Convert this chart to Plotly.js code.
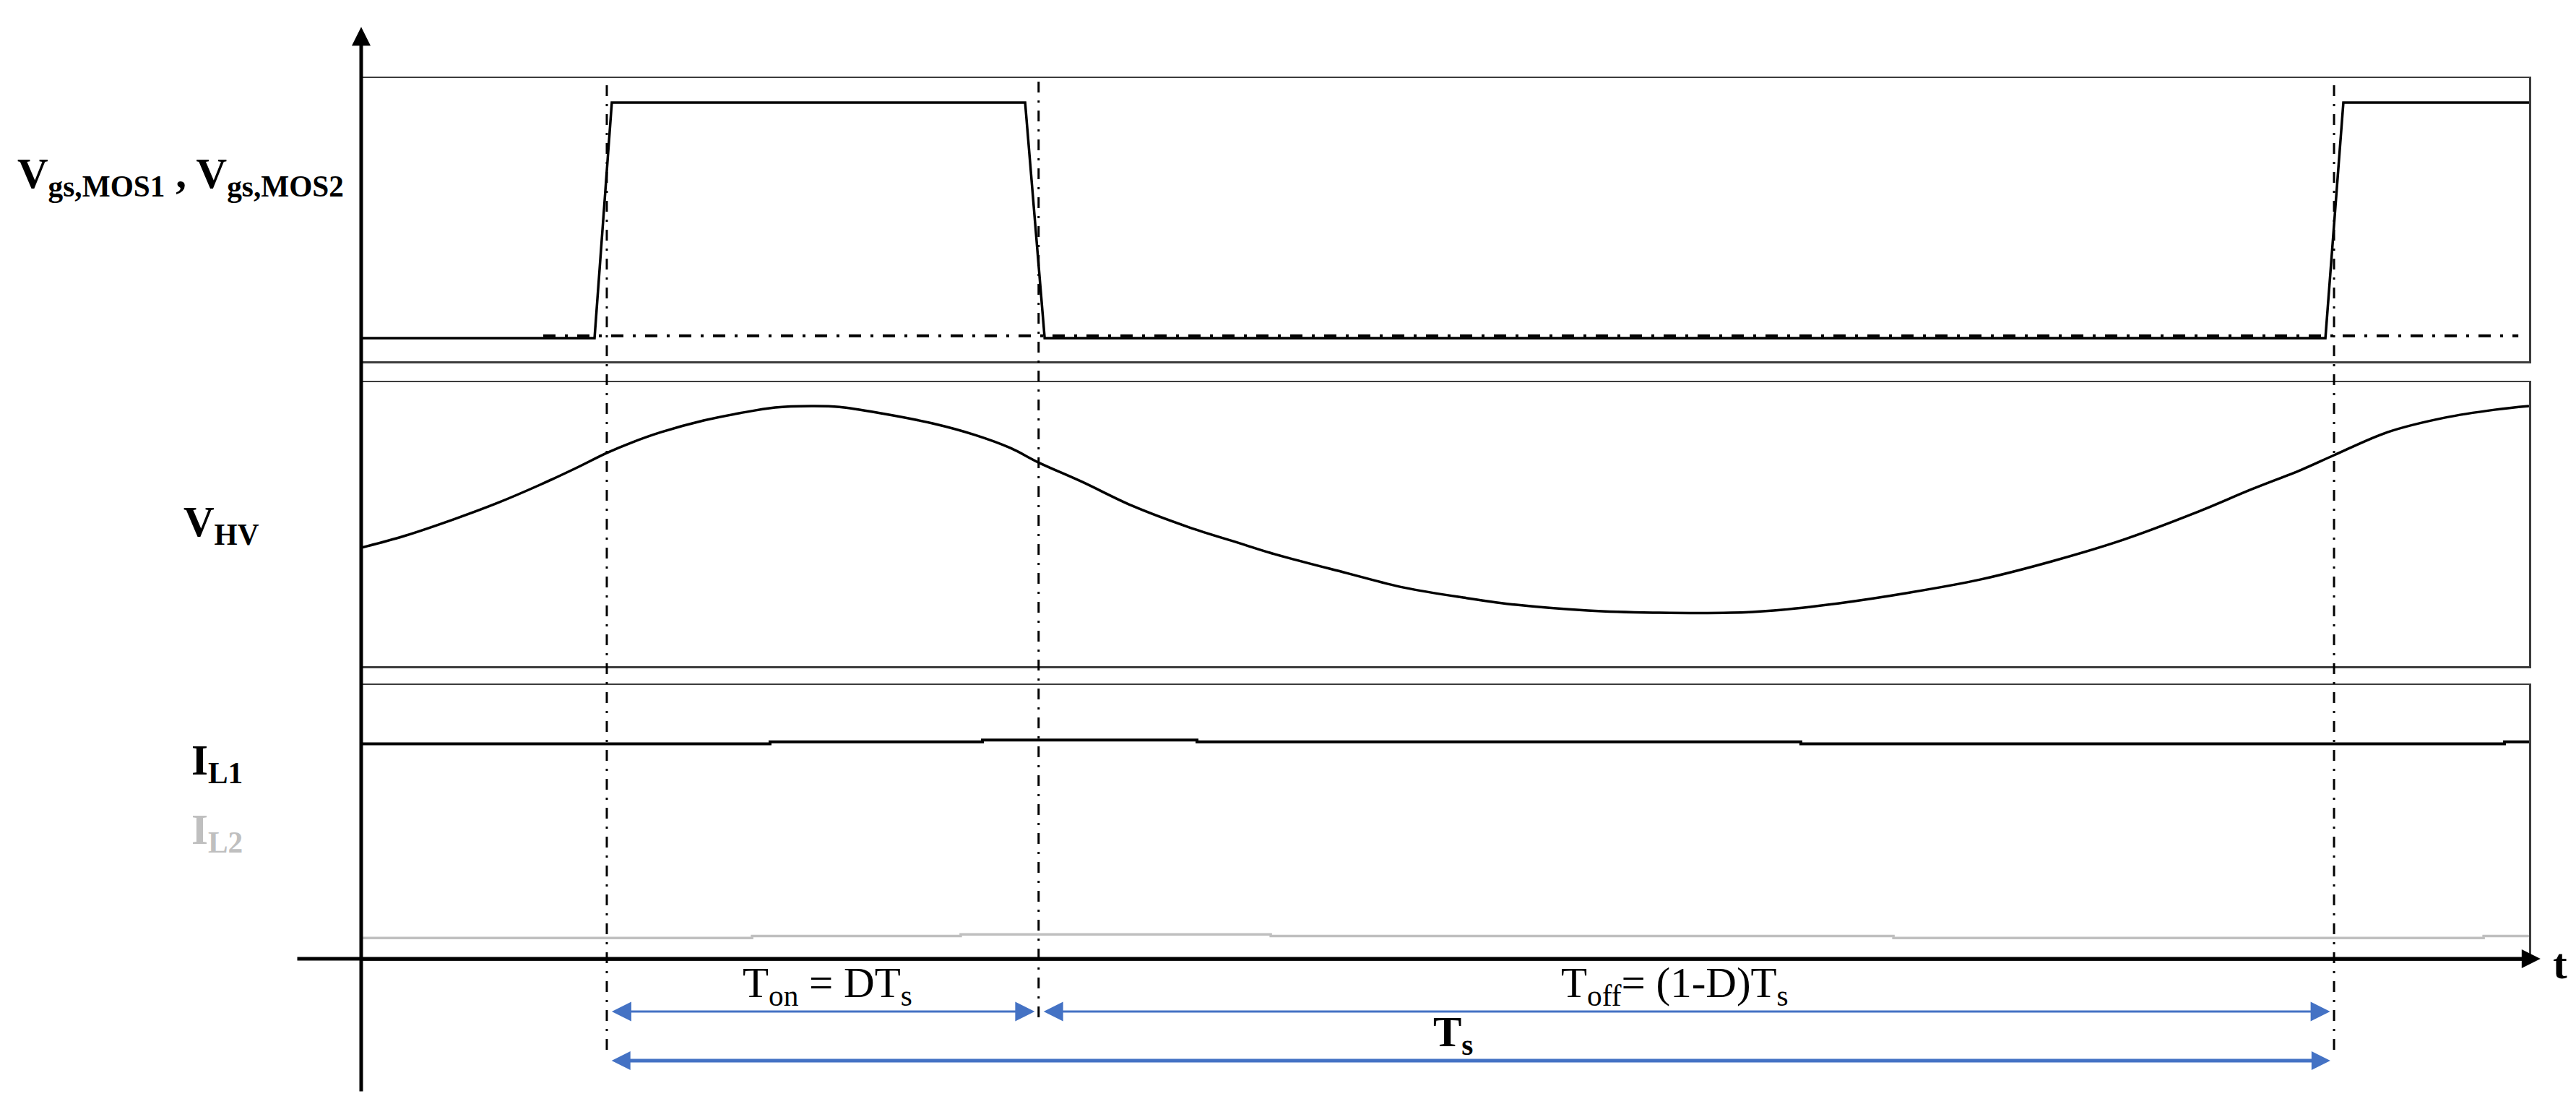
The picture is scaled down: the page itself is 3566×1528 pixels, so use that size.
<!DOCTYPE html>
<html>
<head>
<meta charset="utf-8">
<script src="https://cdn.plot.ly/plotly-3.0.1.min.js"></script>
<style>html,body{margin:0;padding:0;background:#fff;}#chart{width:3566px;height:1528px;}</style>
</head>
<body>
<div id="chart"></div>
<script>
// ---- data (time in units of the switching period Ts) ----
const tSwitch = [0, 0.25, 1.0];               // turn-on, turn-off, next turn-on

const tVgs = [-0.1422, -0.0071, 0.0029, 0.2422, 0.2535, 0.9950, 1.0054, 1.1129];
const vVgs = [0, 0, 1, 1, 0, 0, 1, 1];

const tVgs2 = [-0.0368, 1.1067];
const vVgs2 = [0.01, 0.01];

const tHV = [-0.1422, -0.1175, -0.0887, -0.0636, -0.0389, -0.0184, 0.0000, 0.0146, 0.0314, 0.0560,
             0.0770, 0.0974, 0.1184, 0.1347, 0.1593, 0.1886, 0.2133, 0.2338, 0.2497, 0.2752,
             0.3041, 0.3371, 0.3664, 0.3869, 0.4283, 0.4613, 0.4977, 0.5266, 0.5680, 0.6094,
             0.6504, 0.6755, 0.7127, 0.7541, 0.7951, 0.8365, 0.8779, 0.9193, 0.9523, 0.9812,
             1.0000, 1.0310, 1.0640, 1.0929, 1.1129];
const vHV = [41.7, 45.8, 51.7, 57.4, 63.8, 69.6, 75.1, 78.8, 82.4, 86.5,
             89.1, 91.1, 91.6, 91.3, 89.0, 85.5, 81.4, 76.8, 71.8, 64.9,
             56.5, 48.9, 43.3, 39.4, 32.8, 27.7, 24.0, 21.6, 19.6, 18.8,
             18.8, 19.6, 22.1, 25.9, 30.5, 36.9, 44.5, 53.9, 62.3, 69.2,
             74.3, 82.4, 87.5, 90.3, 91.6];

const tIL1 = [-0.1422, 0.0945, 0.2175, 0.3417, 0.6913, 1.0987, 1.1129];
const vIL1 = [78.5, 79.2, 79.9, 79.2, 78.5, 79.2, 79.2];

const tIL2 = [-0.1422, 0.0841, 0.2049, 0.3844, 0.7449, 1.0866, 1.1129];
const vIL2 = [7.6, 8.3, 8.9, 8.3, 7.6, 8.3, 8.3];

const labelVgs = '<b>V<sub>gs,MOS1</sub> , V<sub>gs,MOS2</sub></b>';
const labelHV = '<b>V<sub>HV</sub></b>';
const labelIL1 = '<b>I<sub>L1</sub></b>';
const labelIL2 = '<b>I<sub>L2</sub></b>';
const labelTon = 'T<sub>on</sub> = DT<sub>s</sub>';
const labelToff = 'T<sub>off</sub>= (1-D)T<sub>s</sub>';
const labelTs = '<b>T<sub>s</sub></b>';
const labelT = '<b>t</b>';

// ---- layout helpers ----
const W = 3566, H = 1528;
const px = p => p / W;
const py = p => 1 - p / H;
const FONT = '"Liberation Serif", "Times New Roman", serif';
const BLUE = '#4472C4';

const axBase = {showline: true, mirror: true, linecolor: '#3c3c3c', linewidth: 2.5,
  showgrid: false, zeroline: false, showticklabels: false, ticks: '', fixedrange: true};
const xr = [-0.1422, 1.1129];
const xd = [px(500), px(3501)];

const traces = [
  {x: tVgs2, y: vVgs2, xaxis: 'x', yaxis: 'y', mode: 'lines',
   line: {color: '#000', width: 4, dash: '17px,13px,4px,13px'}},
  {x: tVgs, y: vVgs, xaxis: 'x', yaxis: 'y', mode: 'lines', line: {color: '#000', width: 3.5}},
  {x: tHV, y: vHV, xaxis: 'x2', yaxis: 'y2', mode: 'lines', line: {color: '#000', width: 3.5, shape: 'spline', smoothing: 1.0}},
  {x: tIL2, y: vIL2, xaxis: 'x3', yaxis: 'y3', mode: 'lines', line: {color: '#bfbfbf', width: 3.5, shape: 'hv'}},
  {x: tIL1, y: vIL1, xaxis: 'x3', yaxis: 'y3', mode: 'lines', line: {color: '#000', width: 4, shape: 'hv'}}
];

const bottoms = [1453, 1408, 1453];
const shapes = tSwitch.map((t, i) => ({
  type: 'line', xref: 'x', yref: 'paper', x0: t, x1: t, y0: py(bottoms[i]), y1: py(108),
  line: {color: '#000', width: 3, dash: '15px,11px,3px,11px'}
}));

function txt(text, x, y, xanchor, opts) {
  return Object.assign({xref: 'paper', yref: 'paper', x: x, y: y, xanchor: xanchor, yanchor: 'middle',
    text: text, showarrow: false, borderpad: 0,
    font: {family: FONT, size: 59, color: '#000'}}, opts || {});
}
function span(t0, t1, yp, w, s) {
  return {xref: 'x', yref: 'paper', x: t1, y: py(yp), axref: 'x', ax: t0, ayref: 'pixel', ay: 0,
    text: '', showarrow: true, arrowside: 'end+start', arrowhead: 2, startarrowhead: 2,
    arrowwidth: w, arrowsize: s, startarrowsize: s, standoff: w * s, startstandoff: w * s,
    arrowcolor: BLUE};
}

const annotations = [
  // axes arrows
  {xref: 'paper', yref: 'paper', x: px(500), y: py(32), axref: 'pixel', ayref: 'pixel', ax: 0, ay: 1480,
   text: '', showarrow: true, arrowhead: 2, arrowwidth: 5, arrowsize: 1.04, standoff: 5.2, arrowcolor: '#000'},
  {xref: 'paper', yref: 'paper', x: px(3522), y: py(1327), axref: 'pixel', ayref: 'pixel', ax: -3112, ay: 0,
   text: '', showarrow: true, arrowhead: 2, arrowwidth: 5, arrowsize: 1.04, standoff: 5.2, arrowcolor: '#000'},
  // period spans
  span(tSwitch[0], tSwitch[1], 1400, 3, 1.8),
  span(tSwitch[1], tSwitch[2], 1400, 3, 1.8),
  span(tSwitch[0], tSwitch[2], 1468, 5, 1.04),
  // labels
  txt(labelVgs, px(23), py(244), 'left'),
  txt(labelHV, px(253), py(726), 'left'),
  txt(labelIL1, px(264), py(1056), 'left'),
  txt(labelIL2, px(264), py(1152), 'left', {font: {family: FONT, size: 59, color: '#bfbfbf'}}),
  txt(labelTon, px(1027), py(1364), 'left'),
  txt(labelToff, px(2160), py(1364), 'left'),
  txt(labelTs, px(2011), py(1432), 'center'),
  txt(labelT, px(3533), py(1334), 'left')
];

const layout = {
  width: W, height: H, margin: {l: 0, r: 0, t: 0, b: 0},
  paper_bgcolor: '#fff', plot_bgcolor: 'rgba(0,0,0,0)', showlegend: false,
  xaxis: Object.assign({}, axBase, {domain: xd, range: xr, anchor: 'y'}),
  xaxis2: Object.assign({}, axBase, {domain: xd, range: xr, anchor: 'y2'}),
  xaxis3: Object.assign({}, axBase, {domain: xd, range: xr, anchor: 'y3'}),
  yaxis: Object.assign({}, axBase, {domain: [py(500), py(108)], range: [-0.0982, 1.1043], anchor: 'x'}),
  yaxis2: Object.assign({}, axBase, {domain: [py(922), py(529)], range: [0, 100], anchor: 'x2'}),
  yaxis3: Object.assign({}, axBase, {domain: [py(1327), py(948)], range: [0, 100], anchor: 'x3'}),
  shapes: shapes,
  annotations: annotations
};

Plotly.newPlot('chart', traces, layout, {staticPlot: true, displayModeBar: false});
</script>
</body>
</html>
